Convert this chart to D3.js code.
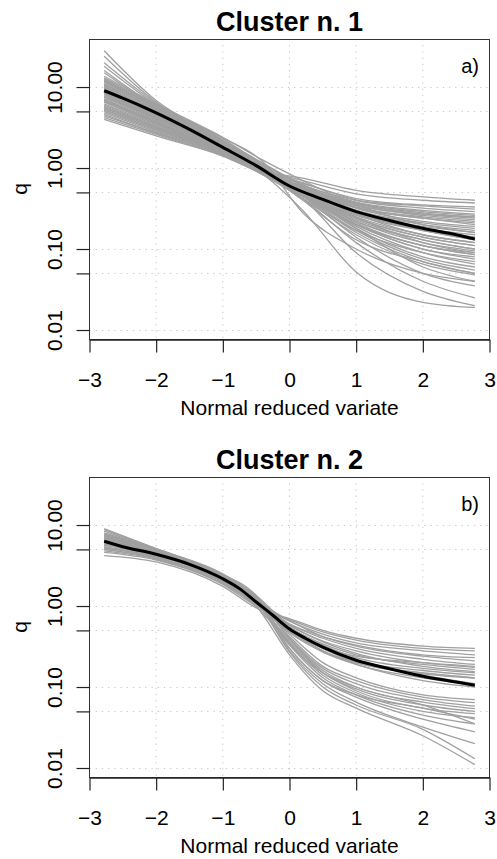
<!DOCTYPE html>
<html>
<head>
<meta charset="utf-8">
<script src="https://cdn.jsdelivr.net/npm/d3@7"></script>
<style>
  html, body { margin: 0; padding: 0; background: #fff; }
  svg { display: block; }
  text { font-family: "Liberation Sans", Arial, Helvetica, sans-serif; fill: #000; }
</style>
</head>
<body>
<div id="chart"></div>
<script>
// ---------------- DATA ----------------
const xTicks = [-3, -2, -1, 0, 1, 2, 3];
const xTickLabels = ["\u22123", "\u22122", "\u22121", "0", "1", "2", "3"];
const yTicks = [10, 5, 1, 0.5, 0.1, 0.05, 0.01];
const yTickLabels = ["10.00", "", "1.00", "", "0.10", "", "0.01"];
const panelTitles = ["Cluster n. 1", "Cluster n. 2"];
const panelTags = ["a)", "b)"];
const xLabel = "Normal reduced variate";
const yLabel = "q";

// Cluster 1: station curves (q at reduced variate nodes)
const nodesX1 = [-2.78, -2, -1, -0.4, 0.2, 1, 2, 2.78];
const curves1 = [
  [28, 6.8, 2.2, 1.0, 0.45, 0.2, 0.11, 0.085],
  [24, 6.5, 2.3, 1.1, 0.5, 0.24, 0.14, 0.11],
  [20, 6.3, 2.1, 0.95, 0.42, 0.17, 0.09, 0.07],
  [18, 6.0, 2.0, 1.05, 0.55, 0.28, 0.17, 0.13],
  [16, 5.8, 2.35, 1.2, 0.28, 0.1, 0.05, 0.04],
  [15, 5.6, 1.9, 0.9, 0.4, 0.13, 0.07, 0.05],
  [13.6, 6.2, 2.4, 1.25, 0.7, 0.35, 0.2, 0.16],
  [13, 6.0, 2.2, 1.15, 0.6, 0.25, 0.12, 0.09],
  [12.5, 5.8, 2.1, 1.0, 0.5, 0.2, 0.1, 0.075],
  [12, 5.5, 2.0, 0.95, 0.45, 0.14, 0.05, 0.035],
  [11.5, 5.4, 2.1, 1.1, 0.6, 0.3, 0.18, 0.14],
  [11, 5.2, 1.9, 0.9, 0.42, 0.12, 0.04, 0.025],
  [10.5, 5.0, 2.0, 1.05, 0.55, 0.27, 0.15, 0.12],
  [10, 5.1, 1.9, 0.85, 0.3, 0.052, 0.022, 0.019],
  [9.8, 4.6, 1.8, 0.9, 0.42, 0.09, 0.03, 0.02],
  [9.5, 4.8, 1.85, 0.95, 0.5, 0.22, 0.13, 0.1],
  [9.2, 4.5, 1.7, 0.88, 0.45, 0.2, 0.11, 0.085],
  [9, 4.4, 1.75, 0.92, 0.5, 0.26, 0.17, 0.14],
  [8.7, 4.3, 1.8, 0.98, 0.55, 0.3, 0.2, 0.17],
  [8.4, 4.2, 1.7, 0.9, 0.48, 0.18, 0.08, 0.06],
  [8.1, 4.1, 1.65, 0.85, 0.45, 0.16, 0.07, 0.05],
  [7.8, 4.0, 1.7, 0.95, 0.55, 0.33, 0.25, 0.22],
  [7.5, 3.9, 1.6, 0.88, 0.5, 0.25, 0.15, 0.12],
  [7.2, 3.8, 1.65, 0.9, 0.52, 0.28, 0.19, 0.16],
  [7, 3.6, 1.55, 0.82, 0.42, 0.15, 0.065, 0.048],
  [6.8, 3.7, 1.7, 1.0, 0.62, 0.38, 0.3, 0.27],
  [6.5, 3.5, 1.6, 0.92, 0.58, 0.35, 0.26, 0.23],
  [6.2, 3.4, 1.55, 0.85, 0.48, 0.22, 0.12, 0.095],
  [6, 3.3, 1.6, 0.95, 0.66, 0.4, 0.32, 0.29],
  [5.8, 3.2, 1.5, 0.84, 0.46, 0.2, 0.1, 0.08],
  [5.5, 3.1, 1.55, 0.9, 0.56, 0.33, 0.24, 0.21],
  [5.3, 3.0, 1.5, 0.88, 0.64, 0.42, 0.35, 0.33],
  [5.0, 2.9, 1.5, 0.9, 0.58, 0.37, 0.29, 0.26],
  [4.8, 2.8, 1.45, 0.84, 0.52, 0.3, 0.21, 0.18],
  [4.6, 2.7, 1.5, 0.95, 0.7, 0.48, 0.4, 0.37],
  [4.4, 2.7, 1.45, 0.88, 0.6, 0.4, 0.34, 0.31],
  [4.2, 2.6, 1.4, 0.85, 0.58, 0.36, 0.27, 0.24],
  [4.0, 2.5, 1.42, 0.92, 0.75, 0.53, 0.44, 0.40],
  [10.2, 4.9, 1.95, 1.0, 0.56, 0.32, 0.24, 0.2],
  [8.9, 4.6, 1.85, 0.96, 0.52, 0.24, 0.14, 0.11],
  [7.6, 4.1, 1.75, 0.97, 0.58, 0.34, 0.27, 0.25],
  [6.6, 3.6, 1.6, 0.9, 0.52, 0.27, 0.18, 0.15],
  [5.6, 3.2, 1.55, 0.92, 0.58, 0.36, 0.28, 0.25],
  [11.8, 5.6, 2.1, 1.05, 0.52, 0.19, 0.09, 0.065],
  [9.6, 4.7, 1.8, 0.9, 0.46, 0.17, 0.075, 0.055],
  [8.2, 4.3, 1.75, 0.92, 0.5, 0.21, 0.11, 0.09],
  [12.2, 5.7, 2.15, 1.12, 0.62, 0.32, 0.22, 0.19],
  [6.9, 3.7, 1.6, 0.9, 0.5, 0.23, 0.13, 0.1],
  [10.8, 5.3, 2.05, 1.0, 0.5, 0.18, 0.06, 0.04],
  [5.2, 3.0, 1.5, 0.88, 0.55, 0.28, 0.17, 0.13]
];
// Cluster 1: regional (mean) curve
const meanX1 = [-2.78, -2.5, -2, -1.5, -1, -0.5, 0, 0.5, 1, 1.5, 2, 2.5, 2.78];
const meanQ1 = [9.0, 7.3, 4.8, 3.0, 1.8, 1.07, 0.60, 0.41, 0.29, 0.225, 0.18, 0.15, 0.133];

// Cluster 2: station curves
const nodesX2 = [-2.78, -2, -1, -0.5, 0, 0.5, 1, 2, 2.78];
const curves2 = [
  [4.2, 3.5, 1.75, 0.95, 0.7, 0.5, 0.4, 0.32, 0.30],
  [4.6, 3.7, 1.85, 1.0, 0.68, 0.48, 0.38, 0.3, 0.28],
  [5.0, 3.9, 1.9, 1.1, 0.65, 0.45, 0.35, 0.28, 0.25],
  [5.4, 4.0, 2.0, 1.15, 0.66, 0.42, 0.32, 0.24, 0.21],
  [5.8, 4.3, 2.1, 1.2, 0.6, 0.4, 0.3, 0.22, 0.19],
  [6.2, 4.4, 2.2, 1.2, 0.58, 0.37, 0.28, 0.2, 0.175],
  [6.6, 4.6, 2.3, 1.25, 0.55, 0.34, 0.25, 0.19, 0.165],
  [7.0, 4.7, 2.2, 1.2, 0.55, 0.33, 0.23, 0.17, 0.15],
  [5.2, 4.0, 2.0, 1.1, 0.58, 0.36, 0.26, 0.18, 0.155],
  [6.0, 4.3, 2.1, 1.15, 0.52, 0.3, 0.21, 0.16, 0.14],
  [7.5, 4.9, 2.3, 1.2, 0.5, 0.3, 0.2, 0.15, 0.13],
  [8.0, 5.0, 2.4, 1.3, 0.52, 0.28, 0.2, 0.145, 0.128],
  [4.8, 3.8, 1.9, 1.05, 0.6, 0.42, 0.33, 0.25, 0.23],
  [9.0, 5.1, 2.5, 1.35, 0.56, 0.32, 0.24, 0.2, 0.18],
  [6.4, 4.5, 2.2, 1.15, 0.45, 0.2, 0.13, 0.08, 0.07],
  [6.8, 4.6, 2.25, 1.2, 0.42, 0.18, 0.12, 0.075, 0.064],
  [7.2, 4.8, 2.3, 1.25, 0.4, 0.17, 0.11, 0.07, 0.058],
  [5.6, 4.2, 2.1, 1.1, 0.38, 0.16, 0.1, 0.065, 0.054],
  [8.4, 5.0, 2.4, 1.3, 0.4, 0.15, 0.095, 0.06, 0.05],
  [5.0, 3.9, 2.0, 0.98, 0.36, 0.15, 0.09, 0.055, 0.047],
  [7.8, 4.9, 2.35, 1.22, 0.35, 0.14, 0.085, 0.05, 0.042],
  [6.1, 4.4, 2.15, 1.1, 0.33, 0.13, 0.08, 0.045, 0.035],
  [8.8, 5.1, 2.45, 1.35, 0.3, 0.12, 0.075, 0.04, 0.028],
  [6.9, 4.7, 2.2, 1.15, 0.28, 0.11, 0.065, 0.032, 0.02],
  [7.4, 4.8, 2.3, 1.18, 0.27, 0.1, 0.06, 0.03, 0.013],
  [5.3, 4.1, 2.05, 1.0, 0.25, 0.09, 0.055, 0.025, 0.011],
  [6.5, 4.5, 2.2, 1.1, 0.3, 0.12, 0.08, 0.055, 0.04],
  [7.7, 4.85, 2.3, 1.25, 0.34, 0.15, 0.1, 0.06, 0.035],
  [6.3, 4.4, 2.2, 1.15, 0.5, 0.3, 0.21, 0.14, 0.11],
  [5.7, 4.2, 2.1, 1.05, 0.48, 0.28, 0.19, 0.13, 0.105],
  [7.1, 4.7, 2.3, 1.2, 0.47, 0.27, 0.19, 0.12, 0.1]
];
// Cluster 2: regional (mean) curve
const meanX2 = [-2.78, -2.5, -2, -1.5, -1, -0.75, -0.5, -0.25, 0, 0.25, 0.5, 1, 1.5, 2, 2.5, 2.78];
const meanQ2 = [6.3, 5.4, 4.35, 3.27, 2.17, 1.64, 1.12, 0.77, 0.52, 0.395, 0.31, 0.214, 0.168, 0.136, 0.115, 0.105];

// ---------------- DRAW ----------------
const W = 497, H = 859;
const plotLeft = 89.5, plotRight = 489.5;
const panels = [
  { top: 39, bottom: 339, nodes: nodesX1, curves: curves1, mx: meanX1, mq: meanQ1 },
  { top: 477, bottom: 777, nodes: nodesX2, curves: curves2, mx: meanX2, mq: meanQ2 }
];

const svg = d3.select("#chart").append("svg")
  .attr("width", W).attr("height", H)
  .attr("viewBox", `0 0 ${W} ${H}`);

const x = d3.scaleLinear().domain([-3, 3]).range([plotLeft, plotRight]);

panels.forEach((p, pi) => {
  const y = d3.scaleLog()
    .domain([Math.pow(10, -2.111), Math.pow(10, 1.593)])
    .range([p.bottom, p.top]);
  const g = svg.append("g");

  // dotted grid
  g.append("g").selectAll("line.vg").data(xTicks).join("line")
    .attr("x1", d => x(d)).attr("x2", d => x(d))
    .attr("y1", p.top).attr("y2", p.bottom)
    .attr("stroke", "#c4c4c4").attr("stroke-width", 1)
    .attr("stroke-dasharray", "1.2,5");
  g.append("g").selectAll("line.hg").data(yTicks).join("line")
    .attr("x1", plotLeft).attr("x2", plotRight)
    .attr("y1", d => Math.round(y(d)) + 0.5).attr("y2", d => Math.round(y(d)) + 0.5)
    .attr("stroke", "#c4c4c4").attr("stroke-width", 1)
    .attr("stroke-dasharray", "1.2,5");

  const line = d3.line()
    .x(d => x(d[0])).y(d => y(d[1]))
    .curve(d3.curveMonotoneX);

  // station curves
  g.append("g").selectAll("path").data(p.curves).join("path")
    .attr("d", c => line(c.map((q, i) => [p.nodes[i], q])))
    .attr("fill", "none").attr("stroke", "#a0a0a0").attr("stroke-width", 1.3);

  // regional curve
  g.append("path")
    .attr("d", line(p.mq.map((q, i) => [p.mx[i], q])))
    .attr("fill", "none").attr("stroke", "#000").attr("stroke-width", 3);

  // box
  g.append("rect")
    .attr("x", plotLeft).attr("y", p.top + 0.5)
    .attr("width", plotRight - plotLeft).attr("height", p.bottom - p.top)
    .attr("fill", "none").attr("stroke", "#333").attr("stroke-width", 1);

  // x axis
  const xa = g.append("g").attr("transform", `translate(0,${p.bottom + 0.5})`)
    .call(d3.axisBottom(x).tickValues(xTicks).tickSize(13).tickSizeOuter(0)
      .tickFormat((d, i) => xTickLabels[i]));
  xa.select(".domain").attr("stroke", "#222").attr("stroke-width", 1.6);
  xa.selectAll(".tick line").attr("stroke", "#222").attr("stroke-width", 1.2);
  xa.selectAll(".tick text")
    .attr("y", 47).attr("dy", null)
    .style("font-size", "21px")
    .style("font-family", "'Liberation Sans', Arial, Helvetica, sans-serif")
    .attr("fill", "#000");

  // y axis
  const ya = g.append("g").attr("transform", `translate(${plotLeft},0)`)
    .call(d3.axisLeft(y).tickValues(yTicks).tickSize(13).tickSizeOuter(0)
      .tickFormat((d, i) => yTickLabels[i]));
  ya.select(".domain").remove();
  ya.selectAll(".tick line").attr("stroke", "#222").attr("stroke-width", 1.2);
  ya.selectAll(".tick text")
    .attr("x", null).attr("dy", null)
    .attr("transform", "translate(-27.5,0) rotate(-90)")
    .attr("text-anchor", "middle")
    .style("font-size", "21px")
    .style("font-family", "'Liberation Sans', Arial, Helvetica, sans-serif")
    .attr("fill", "#000");

  // title
  g.append("text")
    .attr("x", (plotLeft + plotRight) / 2).attr("y", p.top - 8)
    .attr("text-anchor", "middle")
    .style("font-size", "27px").style("font-weight", "bold")
    .text(panelTitles[pi]);

  // tag
  g.append("text")
    .attr("x", 479).attr("y", p.top + 34)
    .attr("text-anchor", "end")
    .style("font-size", "20px")
    .text(panelTags[pi]);

  // axis titles
  g.append("text")
    .attr("x", (plotLeft + plotRight) / 2).attr("y", p.bottom + 76)
    .attr("text-anchor", "middle")
    .style("font-size", "21px")
    .text(xLabel);
  g.append("text")
    .attr("transform", `translate(27,${(p.top + p.bottom) / 2}) rotate(-90)`)
    .attr("text-anchor", "middle")
    .style("font-size", "21px")
    .text(yLabel);
});
</script>
</body>
</html>
